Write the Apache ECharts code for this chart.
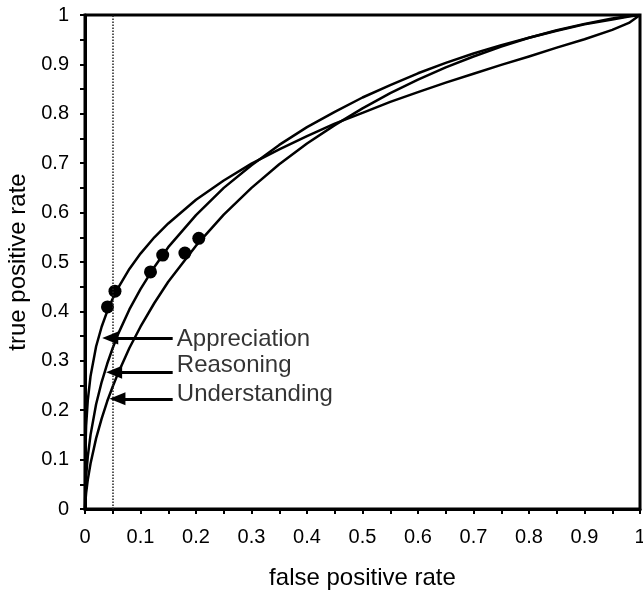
<!DOCTYPE html>
<html>
<head>
<meta charset="utf-8">
<title>ROC curves</title>
<script src="https://cdn.jsdelivr.net/npm/echarts@6/dist/echarts.min.js"></script>
<style>
  html, body { margin: 0; padding: 0; background: #fff; }
  #chart { width: 643px; height: 592px; }
</style>
</head>
<body>
<div id="chart"></div>
<script>
// false positive rate sample points (shared by the three curves)
const fprGrid = [0, 0.0005, 0.002, 0.005, 0.01, 0.02, 0.03, 0.04, 0.05, 0.06, 0.08, 0.1, 0.125, 0.15,
  0.2, 0.25, 0.3, 0.35, 0.4, 0.45, 0.5, 0.55, 0.6, 0.65, 0.7, 0.75, 0.8, 0.85, 0.9, 0.95, 0.98, 1];
// true positive rate
const appreciationTpr = [0, 0.111, 0.168, 0.220, 0.269, 0.329, 0.369, 0.400, 0.426, 0.448, 0.486, 0.517, 0.550, 0.578,
  0.626, 0.665, 0.699, 0.728, 0.755, 0.780, 0.802, 0.824, 0.844, 0.863, 0.881, 0.899, 0.916, 0.934, 0.951, 0.970, 0.984, 1];
const reasoningTpr = [0, 0.031, 0.066, 0.106, 0.150, 0.212, 0.257, 0.294, 0.326, 0.355, 0.404, 0.445, 0.490, 0.530,
  0.595, 0.650, 0.696, 0.737, 0.773, 0.804, 0.833, 0.858, 0.882, 0.903, 0.922, 0.939, 0.954, 0.968, 0.981, 0.991, 0.997, 1];
const understandingTpr = [0, 0.012, 0.032, 0.059, 0.092, 0.143, 0.183, 0.218, 0.248, 0.276, 0.326, 0.369, 0.417, 0.460,
  0.533, 0.596, 0.650, 0.698, 0.740, 0.777, 0.811, 0.842, 0.869, 0.894, 0.916, 0.936, 0.954, 0.969, 0.982, 0.993, 0.998, 1];

// operating points (black dots)
const dotFpr = [0.0405, 0.054, 0.118, 0.140, 0.180, 0.205];
const dotTpr = [0.409, 0.441, 0.480, 0.514, 0.518, 0.548];

// labels with arrows
const labelNames = ['Appreciation', 'Reasoning', 'Understanding'];
const labelTpr = [0.344, 0.29, 0.232];
const arrowTpr = [0.346, 0.277, 0.223];
const arrowTipFpr = [0.0455, 0.0525, 0.0585];
const arrowTailFpr = 0.158;
const labelFpr = 0.16;

// dotted reference line
const cutoffFpr = 0.05;

const FONT = "'Liberation Sans', Arial, Helvetica, sans-serif";

function pairs(xs, ys) {
  return xs.map((x, i) => [x, ys[i]]);
}

function curve(name, ys) {
  return {
    name: name,
    type: 'line',
    data: pairs(fprGrid, ys),
    smooth: false,
    showSymbol: false,
    symbol: 'none',
    lineStyle: { color: '#000', width: 2.5, join: 'round' },
    z: 3,
  };
}

const chart = echarts.init(document.getElementById('chart'));

const axisCommon = {
  type: 'value',
  min: 0,
  max: 1,
  interval: 0.1,
  nameLocation: 'middle',
  nameTextStyle: { color: '#000', fontSize: 24, fontFamily: FONT },
  axisLine: { show: true, lineStyle: { color: '#000', width: 3 } },
  axisTick: { show: true, length: 5, lineStyle: { color: '#000', width: 2 } },
  minorTick: { show: true, splitNumber: 2, length: 5, lineStyle: { color: '#000', width: 2 } },
  splitLine: { show: false },
  axisLabel: { color: '#000', fontSize: 20, fontFamily: FONT },
};

const option = {
  animation: false,
  backgroundColor: '#fff',
  grid: {
    left: 85,
    right: 3,
    top: 15,
    bottom: 83,
    containLabel: false,
    outerBoundsMode: 'none',
    show: true,
    borderColor: '#000',
    borderWidth: 3,
  },
  xAxis: Object.assign({}, axisCommon, {
    name: 'false positive rate',
    nameGap: 57,
    axisLabel: Object.assign({}, axisCommon.axisLabel, { margin: 18 }),
  }),
  yAxis: Object.assign({}, axisCommon, {
    name: 'true positive rate',
    nameGap: 55,
    nameRotate: 90,
    axisLabel: Object.assign({}, axisCommon.axisLabel, { margin: 16 }),
  }),
  series: [
    curve('Appreciation', appreciationTpr),
    curve('Reasoning', reasoningTpr),
    curve('Understanding', understandingTpr),
    {
      // dots + dotted cutoff line + arrows
      name: 'points',
      type: 'scatter',
      data: pairs(dotFpr, dotTpr),
      symbol: 'circle',
      symbolSize: 13,
      itemStyle: { color: '#000', opacity: 1 },
      z: 4,
      markLine: {
        silent: true,
        animation: false,
        label: { show: false },
        data: [
          [
            { coord: [cutoffFpr, 0], symbol: 'none', lineStyle: { type: 'dotted', width: 1.5, color: '#222' } },
            { coord: [cutoffFpr, 1], symbol: 'none' },
          ],
        ].concat(arrowTpr.map((y, i) => [
          { coord: [arrowTailFpr, y], symbol: 'none', lineStyle: { type: 'solid', width: 3, color: '#000' } },
          { coord: [arrowTipFpr[i], y], symbol: 'triangle', symbolSize: [13, 16] },
        ])),
      },
    },
    {
      name: 'labels',
      type: 'scatter',
      data: labelNames.map((n, i) => [labelFpr, labelTpr[i], n]),
      symbolSize: 0,
      silent: true,
      label: {
        show: true,
        position: 'right',
        distance: 3,
        color: '#000',
        fontSize: 24,
        fontFamily: FONT,
        formatter: p => p.value[2],
      },
    },
  ],
};

chart.setOption(option);
</script>
</body>
</html>
